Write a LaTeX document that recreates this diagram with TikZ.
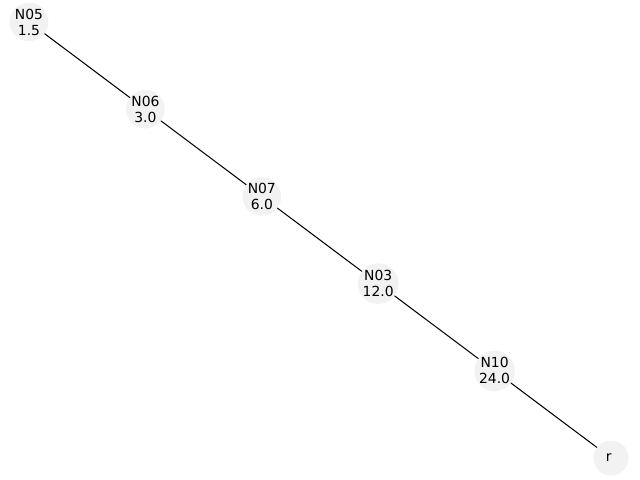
\documentclass[tikz,border=0pt]{standalone}
\usepackage{fontspec}
\setmainfont{DejaVu Sans}
\begin{document}
\begin{tikzpicture}[x=0.72pt,y=-0.72pt,line join=round,line cap=round,
	every node/.style={font=\fontsize{10}{11.5}\selectfont},
	treenode/.style={circle,fill=black!5,minimum size=25.2pt,inner sep=0pt,align=center},
	edge/.style={black,line width=0.75pt}]
	\useasboundingbox (0,0) rectangle (640,480);
	\foreach \name/\x/\y/\txt in {
		n05/29/22/{N05\\1.5},
		n06/145.4/109.2/{N06\\3.0},
		n07/261.8/196.4/{N07\\6.0},
		n03/378.2/283.6/{N03\\12.0},
		n10/494.6/370.8/{N10\\24.0},
		r/611/458/r
	}{
		\node[treenode] (\name) at (\x,\y) {\txt};
	}
	\foreach \a/\b in {n05/n06,n06/n07,n07/n03,n03/n10,n10/r}{
		\draw[edge] (\a) -- (\b);
	}
\end{tikzpicture}
\end{document}
